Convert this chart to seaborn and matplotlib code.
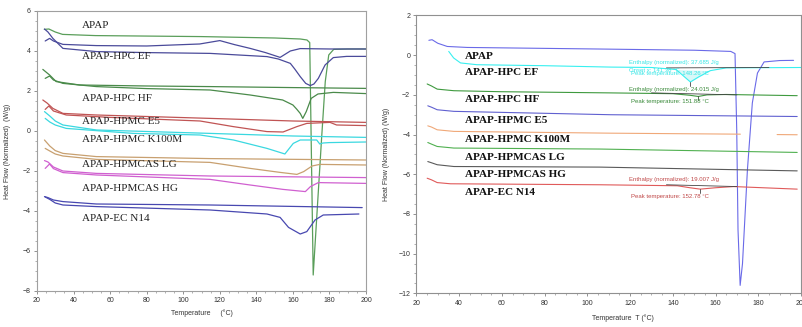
import numpy as np
import pandas as pd
import matplotlib
matplotlib.use("Agg")
import matplotlib.pyplot as plt
import seaborn as sns
from matplotlib.ticker import MultipleLocator

sns.set_style("ticks")
plt.rcParams['font.family'] = ['Liberation Sans', 'DejaVu Sans']

# ---------------- data: left panel (two runs per sample) ----------------
SAMPLES = ["APAP", "APAP-HPC EF", "APAP-HPC HF", "APAP-HPMC E5", "APAP-HPMC K100M",
           "APAP-HPMCAS LG", "APAP-HPMCAS HG", "APAP-EC N14"]

L_APAP_T = [24, 26.5, 30, 34, 52, 110, 150, 164, 167.7, 169.2, 171.1, 175.6, 177.7, 179.6, 182.3, 190, 200]
L_APAP_HF = [5.08, 5.1, 4.95, 4.83, 4.77, 4.72, 4.65, 4.6, 4.55, 4.42, -7.2, -0.5, 2.47, 3.8, 4.08, 4.1, 4.1]

L_EF1_T = [24.5, 26.9, 29, 34.2, 52.5, 80, 109, 120, 128, 136.6, 145, 153, 158.6, 164, 180, 200]
L_EF1_HF = [4.5, 4.63, 4.5, 4.33, 4.27, 4.25, 4.35, 4.52, 4.32, 4.13, 3.92, 3.68, 4.0, 4.12, 4.1, 4.1]
L_EF2_T = [24.1, 26, 28.7, 34.2, 52.5, 80, 114.7, 145.8, 152, 158.6, 161, 164, 167, 169.5, 171.5, 173.9, 177.6, 182.1, 189.4, 200]
L_EF2_HF = [5.1, 4.95, 4.63, 4.13, 3.97, 3.92, 3.88, 3.72, 3.6, 3.38, 3.1, 2.72, 2.38, 2.27, 2.35, 2.63, 3.3, 3.67, 3.73, 3.73]

L_HF1_T = [23.2, 26.9, 30.5, 43.3, 80, 114.7, 160, 200]
L_HF1_HF = [3.08, 2.8, 2.47, 2.3, 2.25, 2.22, 2.17, 2.13]
L_HF2_T = [24.5, 26.9, 29, 34.2, 52.5, 80, 114.7, 136.6, 154.4, 160, 162, 164, 165.4, 167.3, 170, 173.7, 182.1, 200]
L_HF2_HF = [2.63, 2.75, 2.55, 2.38, 2.22, 2.12, 2.05, 1.8, 1.55, 1.3, 1.1, 0.88, 0.63, 0.97, 1.63, 1.85, 1.93, 1.87]

L_E51_T = [23.2, 25.5, 28.7, 34.2, 52.5, 114.7, 160, 200]
L_E51_HF = [1.55, 1.4, 1.13, 0.88, 0.8, 0.63, 0.5, 0.43]
L_E52_T = [24.5, 26.5, 29, 36, 60, 109.2, 127.3, 145.8, 154.6, 162.2, 167.6, 180.3, 183.9, 200]
L_E52_HF = [1.08, 1.25, 1.0, 0.8, 0.68, 0.5, 0.22, -0.03, -0.05, 0.22, 0.38, 0.43, 0.3, 0.27]

L_K1_T = [24.1, 27, 30, 34.2, 52.5, 114.7, 160, 200]
L_K1_HF = [0.97, 0.75, 0.5, 0.3, 0.05, -0.12, -0.25, -0.32]
L_K2_T = [24.5, 27, 30, 36, 72.6, 109.2, 127.5, 145.8, 154.6, 155.6, 160.2, 164, 173, 174.7, 176.5, 180, 200]
L_K2_HF = [0.63, 0.45, 0.3, 0.13, -0.12, -0.2, -0.45, -0.87, -1.12, -1.15, -0.62, -0.45, -0.45, -0.65, -0.6, -0.58, -0.55]

L_LG1_T = [24.1, 27, 30, 34.2, 52.5, 114.7, 200]
L_LG1_HF = [-0.45, -0.75, -0.98, -1.12, -1.28, -1.38, -1.45]
L_LG2_T = [24.5, 27, 30, 34.2, 52.5, 114.7, 136.6, 153, 162.2, 165.9, 170.5, 174.7, 200]
L_LG2_HF = [-0.87, -1.0, -1.15, -1.25, -1.42, -1.57, -1.87, -2.07, -2.17, -2.03, -1.75, -1.67, -1.7]

L_HG1_T = [24.1, 26, 29, 34.2, 52.5, 114.7, 200]
L_HG1_HF = [-1.48, -1.55, -1.8, -2.0, -2.12, -2.25, -2.33]
L_HG2_T = [24.5, 26.9, 29, 34.2, 52.5, 114.7, 136.6, 154.6, 166.8, 169.6, 173.9, 200]
L_HG2_HF = [-1.87, -1.65, -1.88, -2.08, -2.2, -2.42, -2.7, -2.92, -3.03, -2.78, -2.58, -2.62]

L_EC1_T = [24.1, 26, 29, 34.2, 52.5, 114.7, 197.9]
L_EC1_HF = [-3.28, -3.33, -3.45, -3.53, -3.65, -3.7, -3.83]
L_EC2_T = [24.5, 27, 30, 34.2, 52.5, 114.7, 145.8, 153, 157.6, 164, 167.6, 172.1, 176.6, 196.1]
L_EC2_HF = [-3.3, -3.42, -3.6, -3.7, -3.78, -3.95, -4.15, -4.32, -4.82, -5.15, -5.03, -4.45, -4.2, -4.15]

L_COLORS = ["#5a9e5a", "#4a4a9a", "#4a8a4a", "#c05454", "#3ad8e0", "#c8a070", "#d060d0", "#4848b0"]
L_LABEL_Y = [5.25, 3.72, 1.6, 0.47, -0.45, -1.7, -2.9, -4.4]

# ---------------- data: right panel (one run per sample) ----------------
R_APAP_T = [25.8, 27.3, 30, 34.4, 43.8, 106.2, 150, 167.1, 169.1, 169.9, 170.5, 171.5, 172.6, 174.9, 177.2, 179.6, 182.7, 190, 196.5]
R_APAP_HF = [0.75, 0.78, 0.6, 0.44, 0.39, 0.31, 0.25, 0.19, 0.08, -3.76, -8.8, -11.6, -10.5, -5.78, -2.41, -0.9, -0.34, -0.27, -0.26]

R_EF_T = [35.1, 37.4, 40.6, 48.3, 80, 111, 130, 141.5, 145, 148.2, 152, 157.5, 165, 200]
R_EF_HF = [0.19, -0.14, -0.39, -0.48, -0.53, -0.6, -0.62, -0.72, -1.05, -1.35, -1.1, -0.78, -0.64, -0.62]

R_HF_T = [25, 27, 29.7, 37.5, 59.3, 110.8, 140, 148, 151.9, 156, 165, 198.2]
R_HF_HF = [-1.45, -1.55, -1.71, -1.79, -1.84, -1.9, -1.94, -2.02, -2.08, -2.0, -1.98, -2.04]

R_E5_T = [25.3, 27, 29.7, 37.5, 110.8, 198.2]
R_E5_HF = [-2.55, -2.62, -2.75, -2.83, -3.0, -3.09]

R_K_T_A = [25.3, 27, 29.7, 37.5, 110.8, 171.6]
R_K_HF_A = [-3.56, -3.62, -3.76, -3.84, -3.93, -3.98]
R_K_T_B = [188.8, 198.2]
R_K_HF_B = [-4.0, -4.01]

R_LG_T = [25.3, 27, 29.7, 37.5, 106, 198.2]
R_LG_HF = [-4.4, -4.48, -4.6, -4.68, -4.73, -4.9]

R_HG_T = [25.3, 27, 29.7, 37.5, 106, 198.2]
R_HG_HF = [-5.36, -5.42, -5.52, -5.61, -5.64, -5.83]

R_EC_T = [25, 27, 29.7, 35.9, 106.2, 142.1, 148, 152.8, 160, 168.4, 198.2]
R_EC_HF = [-6.2, -6.28, -6.42, -6.48, -6.53, -6.58, -6.68, -6.75, -6.68, -6.62, -6.75]

R_COLORS = ["#6a6ae8", "#38f0f0", "#3f9a3f", "#6060d0", "#f0a878", "#50b050", "#5a5a5a", "#e05a5a"]
R_LABEL_Y = [-0.08, -0.85, -2.21, -3.29, -4.26, -5.16, -6.0, -6.92]

# integration baselines (start T, end T, start HF, end HF) and peak annotations
BASE_T = [(137, 185), (130, 170), (137, 170)]
BASE_HF = [(-0.64, -0.62), (-1.9, -2.0), (-6.53, -6.62)]
PEAK_T = [148.26, 151.88, 152.78]
PEAK_HF = [-1.35, -2.08, -6.75]
ENTHALPY = ["37.685", "24.015", "19.007"]
ANN_COLORS = ["#38e6e6", "#3a8a3a", "#c04848"]
ANN_Y_ENTH = [-0.36, -1.71, -6.28]
ANN_Y_PEAK = [-0.93, -2.33, -7.12]
ONSET = "141.38"

# ---------------- figure ----------------
fig = plt.figure(figsize=(8.02, 3.27), dpi=100)
axL = fig.add_axes([0.0461, 0.1101, 0.4103, 0.8563])
axR = fig.add_axes([0.5193, 0.1030, 0.4795, 0.8496])


def draw(ax, T, HF, color, lw=0.9, zorder=2):
    df = pd.DataFrame({"T": T, "HF": HF})
    sns.lineplot(data=df, x="T", y="HF", ax=ax, color=color, lw=lw,
                 sort=False, estimator=None, zorder=zorder)


left_pairs = [
    [(L_APAP_T, L_APAP_HF)],
    [(L_EF1_T, L_EF1_HF), (L_EF2_T, L_EF2_HF)],
    [(L_HF1_T, L_HF1_HF), (L_HF2_T, L_HF2_HF)],
    [(L_E51_T, L_E51_HF), (L_E52_T, L_E52_HF)],
    [(L_K1_T, L_K1_HF), (L_K2_T, L_K2_HF)],
    [(L_LG1_T, L_LG1_HF), (L_LG2_T, L_LG2_HF)],
    [(L_HG1_T, L_HG1_HF), (L_HG2_T, L_HG2_HF)],
    [(L_EC1_T, L_EC1_HF), (L_EC2_T, L_EC2_HF)],
]
for runs, c in zip(left_pairs, L_COLORS):
    for T, HF in runs:
        draw(axL, T, HF, c)

for name, y in zip(SAMPLES, L_LABEL_Y):
    axL.text(44.4, y, name, family=["Liberation Serif"], fontsize=8, va="center", ha="left", color="#222222")

right_runs = [
    [(R_APAP_T, R_APAP_HF)],
    [(R_EF_T, R_EF_HF)],
    [(R_HF_T, R_HF_HF)],
    [(R_E5_T, R_E5_HF)],
    [(R_K_T_A, R_K_HF_A), (R_K_T_B, R_K_HF_B)],
    [(R_LG_T, R_LG_HF)],
    [(R_HG_T, R_HG_HF)],
    [(R_EC_T, R_EC_HF)],
]
for runs, c in zip(right_runs, R_COLORS):
    for T, HF in runs:
        draw(axR, T, HF, c, lw=0.8)

# shaded peak area of HPC EF
ef = pd.DataFrame({"T": R_EF_T, "HF": R_EF_HF})
seg = ef[(ef["T"] >= 141.5) & (ef["T"] <= 157.5)]
axR.fill_between(seg["T"], seg["HF"], np.interp(seg["T"], [seg["T"].iloc[0], seg["T"].iloc[-1]],
                 [seg["HF"].iloc[0], seg["HF"].iloc[-1]]), color="#bff4f4", alpha=0.6, lw=0)

for (t0, t1), (h0, h1) in zip(BASE_T, BASE_HF):
    draw(axR, [t0, t1], [h0, h1], "#444444", lw=0.6, zorder=3)
for pt, ph in zip(PEAK_T, PEAK_HF):
    draw(axR, [pt, pt], [ph, ph - 0.2], "#444444", lw=0.6, zorder=3)

for i in range(3):
    axR.text(119.5, ANN_Y_ENTH[i], f"Enthalpy (normalized): {ENTHALPY[i]} J/g",
             fontsize=4.3, color=ANN_COLORS[i], va="center", ha="left")
    axR.text(120.5, ANN_Y_PEAK[i], f"Peak temperature: {PEAK_T[i]:.2f} °C",
             fontsize=4.3, color=ANN_COLORS[i], va="center", ha="left")
axR.text(119.5, -0.77, f"Onset x: {ONSET} °C", fontsize=4.3, color=ANN_COLORS[0], va="center", ha="left")

for name, y in zip(SAMPLES, R_LABEL_Y):
    axR.text(42.7, y, name, family=["Liberation Serif"], fontsize=8, fontweight="bold",
             va="center", ha="left", color="#111111")

# ---------------- axes styling ----------------
axL.set_xlim(20, 200)
axL.set_ylim(-8, 6)
axL.xaxis.set_major_locator(MultipleLocator(20))
axL.xaxis.set_minor_locator(MultipleLocator(5))
axL.yaxis.set_major_locator(MultipleLocator(2))
axL.yaxis.set_minor_locator(MultipleLocator(0.5))
axL.set_xlabel("Temperature     (°C)", fontsize=5, color="#333333", labelpad=4)
axL.set_ylabel("Heat Flow (Normalized)  (W/g)", fontsize=5, color="#333333")
axL.yaxis.set_label_coords(-0.08, 0.5)
for s in axL.spines.values():
    s.set_color("#a0a0a0")
    s.set_linewidth(0.8)

axR.set_xlim(20, 200)
axR.set_ylim(-12, 2)
axR.xaxis.set_major_locator(MultipleLocator(20))
axR.xaxis.set_minor_locator(MultipleLocator(5))
axR.yaxis.set_major_locator(MultipleLocator(2))
axR.yaxis.set_minor_locator(MultipleLocator(0.5))
axR.set_xlabel("Temperature  T (°C)", fontsize=5, color="#333333", labelpad=4)
axR.xaxis.set_label_coords(0.537, -0.075)
axR.set_ylabel("Heat Flow (Normalized) (W/g)", fontsize=5, color="#333333")
axR.yaxis.set_label_coords(-0.069, 0.5)
for s in axR.spines.values():
    s.set_color("#909090")
    s.set_linewidth(0.8)

for ax in (axL, axR):
    ax.tick_params(axis="both", which="major", labelsize=5, length=2.5, width=0.6,
                   colors="#808080", labelcolor="#333333", pad=2)
    ax.tick_params(axis="both", which="minor", length=1.5, width=0.5, colors="#909090")

fig.savefig("out.png", dpi=100)
